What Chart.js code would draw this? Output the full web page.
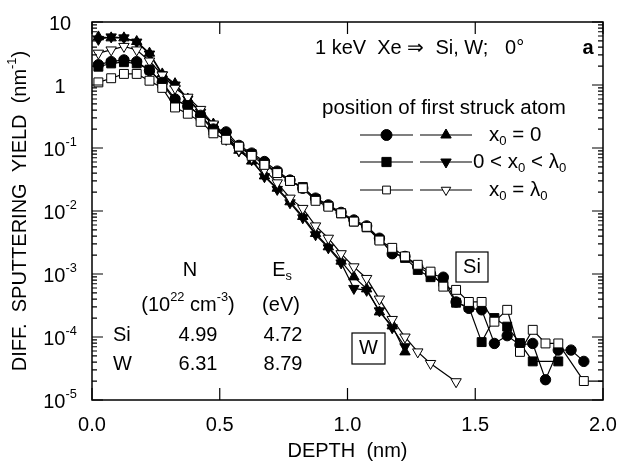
<!DOCTYPE html>
<html>
<head>
<meta charset="utf-8">
<script src="https://cdn.jsdelivr.net/npm/chart.js@4"></script>
<style>
  body { margin: 0; background: #fff; }
  #wrap { width: 619px; height: 469px; }
</style>
</head>
<body>
<div id="wrap"><canvas id="myChart"></canvas></div>
<script>
// depth bins (nm)
var depth = [0.025, 0.075, 0.125, 0.175, 0.225, 0.275, 0.325, 0.375, 0.425, 0.475,
             0.525, 0.575, 0.625, 0.675, 0.725, 0.775, 0.825, 0.875, 0.925, 0.975,
             1.025, 1.075, 1.125, 1.175, 1.225, 1.275, 1.325, 1.375, 1.425, 1.475,
             1.525, 1.575, 1.625, 1.675, 1.725, 1.775, 1.825, 1.875, 1.925, 1.975, 2.025];

// Si target
var siFirst  = [2.1, 2.35, 2.5, 2.35, 1.7, 1.1, 0.6, 0.46, 0.33, 0.2,
                0.18, 0.11, 0.083, 0.061, 0.043, 0.031, 0.023, 0.016, 0.0125, 0.0095,
                0.0072, 0.0058, 0.0037, 0.0021, 0.0019, 0.0013, 0.001, 0.00089, 0.00036, 0.000285,
                0.00027, 0.000079, 0.000105, 0.000075, 0.000079, 0.000021, 0.000062, 0.000062, 0.000041, null, null];
var siMid    = [1.95, 2.2, 2.3, 2.2, 1.75, 1.05, 0.56, 0.48, 0.32, 0.19,
                0.165, 0.105, 0.08, 0.057, 0.041, 0.03, 0.024, 0.0155, 0.012, 0.0092,
                0.0068, 0.0055, 0.0035, 0.00225, 0.0018, 0.00116, 0.00089, 0.00075, 0.00035, 0.0003,
                0.000083, 0.0002, 0.000146, 0.00008, 0.000041, null, 0.000041, null, null, null, null];
var siLambda = [1.1, 1.28, 1.5, 1.5, 1.17, 0.9, 0.44, 0.35, 0.26, 0.171,
                0.135, 0.105, 0.075, 0.054, 0.04, 0.03, 0.023, 0.0145, 0.0117, 0.0092,
                0.0068, 0.0056, 0.0034, 0.0026, 0.0019, 0.0014, 0.00109, 0.00063, 0.00056, 0.00036,
                0.00036, 0.000175, 0.00027, 0.000058, 0.00013, 0.000079, 0.000079, null, 0.00002, null, 0.00002];

// W target
var wFirst   = [5.8, 5.6, 5.6, 4.9, 3.2, 1.5, 1.05, 0.6, 0.36, 0.24,
                0.14, 0.092, 0.062, 0.036, 0.023, 0.014, 0.0082, 0.0044, 0.0027, 0.0016,
                0.0009, 0.00058, 0.00025, 0.00015, 0.000058];
var wMid     = [5.3, 5.8, 5.6, 4.8, 3.1, 1.45, 1.0, 0.6, 0.37, 0.23,
                0.137, 0.09, 0.065, 0.035, 0.022, 0.0135, 0.0078, 0.0042, 0.0026, 0.0015,
                0.00059, 0.00055, 0.00026, 0.00014, 0.00007];
var wLambda  = [3.2, 3.6, 4.1, 3.6, 2.4, 1.44, 0.89, 0.64, 0.41, 0.24,
                0.16, 0.093, 0.07, 0.045, 0.028, 0.016, 0.011, 0.0058, 0.0037, 0.0021,
                0.0013, 0.00085, 0.0004, 0.00019, 0.0001, 0.000058, 0.000038, null, 0.0000195];

var xTicks = [0, 0.5, 1.0, 1.5, 2.0];
var yDecades = [1, 0, -1, -2, -3, -4, -5];

var tableHead = ['N', 'E'];
var tableRows = [['Si', '4.99', '4.72'], ['W', '6.31', '8.79']];

var FONT = '"Liberation Sans", Arial, sans-serif';

function pts(vals) {
  return vals.map(function (v, i) { return { x: depth[i], y: v }; });
}

function ds(vals, style, fill, rot, r) {
  return {
    data: pts(vals),
    borderColor: '#000',
    borderWidth: 1.2,
    pointStyle: style,
    pointRotation: rot,
    pointRadius: r,
    pointBackgroundColor: fill,
    pointBorderColor: '#000',
    pointBorderWidth: 1,
    spanGaps: true,
    tension: 0
  };
}

// text with sub/superscripts: parts = [[text, mode]], mode 0 normal, 1 sup, -1 sub
function rich(ctx, parts, x, y, size, align) {
  var w = 0;
  parts.forEach(function (p) {
    ctx.font = (p[1] ? size * 0.64 : size) + 'px ' + FONT;
    p.w = ctx.measureText(p[0]).width;
    w += p.w;
  });
  var cx = align === 'center' ? x - w / 2 : (align === 'right' ? x - w : x);
  ctx.textAlign = 'left';
  ctx.textBaseline = 'middle';
  parts.forEach(function (p) {
    ctx.font = (p[1] ? size * 0.64 : size) + 'px ' + FONT;
    var dy = p[1] === 1 ? -size * 0.4 : (p[1] === -1 ? size * 0.3 : 0);
    ctx.fillText(p[0], cx, y + dy);
    cx += p.w;
  });
}

function marker(ctx, style, x, y, r, fill, rot) {
  ctx.beginPath();
  if (style === 'circle') {
    ctx.arc(x, y, r, 0, Math.PI * 2);
  } else if (style === 'rect') {
    var s = r * Math.SQRT1_2;
    ctx.rect(x - s, y - s, 2 * s, 2 * s);
  } else {
    var a = rot * Math.PI / 180;
    for (var i = 0; i < 3; i++) {
      var px = x + Math.sin(a) * r, py = y - Math.cos(a) * r;
      if (i === 0) ctx.moveTo(px, py); else ctx.lineTo(px, py);
      a += Math.PI * 2 / 3;
    }
    ctx.closePath();
  }
  ctx.fillStyle = fill;
  ctx.fill();
  ctx.lineWidth = 1;
  ctx.strokeStyle = '#000';
  ctx.stroke();
}

var decor = {
  id: 'decor',
  afterDraw: function (chart) {
    var ctx = chart.ctx, a = chart.chartArea, xs = chart.scales.x, ys = chart.scales.y;
    ctx.save();
    ctx.strokeStyle = '#000';
    ctx.fillStyle = '#000';

    // frame + ticks
    ctx.lineWidth = 1.5;
    ctx.strokeRect(a.left, a.top, a.right - a.left, a.bottom - a.top);
    ctx.lineWidth = 1.2;
    ctx.beginPath();
    xTicks.forEach(function (v) {
      var px = xs.getPixelForValue(v);
      ctx.moveTo(px, a.bottom); ctx.lineTo(px, a.bottom - 12);
      ctx.moveTo(px, a.top); ctx.lineTo(px, a.top + 12);
    });
    yDecades.forEach(function (k) {
      for (var m = 1; m <= 9; m++) {
        var v = m * Math.pow(10, k);
        if (v > 10) break;
        var py = ys.getPixelForValue(v);
        var len = m === 1 ? 11 : 5;
        ctx.moveTo(a.left, py); ctx.lineTo(a.left + len, py);
        ctx.moveTo(a.right, py); ctx.lineTo(a.right - len, py);
      }
    });
    ctx.stroke();

    // tick labels
    ctx.fillStyle = '#000';
    xTicks.forEach(function (v) {
      rich(ctx, [[v.toFixed(1), 0]], xs.getPixelForValue(v), a.bottom + 25, 20, 'center');
    });
    yDecades.forEach(function (k) {
      var py = ys.getPixelForValue(Math.pow(10, k));
      var parts = k === 1 ? [['10', 0]] : (k === 0 ? [['1', 0]] : [['10', 0], [String(k), 1]]);
      rich(ctx, parts, 60, py + 2, 20, 'center');
    });

    // axis titles
    rich(ctx, [['DEPTH  (nm)', 0]], (a.left + a.right) / 2, 451, 20, 'center');
    ctx.save();
    ctx.translate(20, (a.top + a.bottom) / 2);
    ctx.rotate(-Math.PI / 2);
    rich(ctx, [['DIFF.  SPUTTERING  YIELD  (nm', 0], ['-1', 1], [')', 0]], 0, 0, 20, 'center');
    ctx.restore();

    // header
    rich(ctx, [['1 keV  Xe \u21D2  Si, W;   0\u00B0', 0]], 315, 48, 20, 'left');
    ctx.font = 'bold 20px ' + FONT;
    ctx.textAlign = 'center';
    ctx.fillText('a', 588, 48);

    // legend
    rich(ctx, [['position of first struck atom', 0]], 322, 108, 20.5, 'left');
    var rows = [
      { y: 135, s1: ['circle', '#000', 0, 5.5], s2: ['triangle', '#000', 0, 6], tx: 489,
        txt: [['x', 0], ['0', -1], [' = 0', 0]] },
      { y: 162, s1: ['rect', '#000', 0, 6.5], s2: ['triangle', '#000', 180, 6], tx: 473,
        txt: [['0 < x', 0], ['0', -1], [' < \u03BB', 0], ['0', -1]] },
      { y: 190, s1: ['rect', '#fff', 0, 5.5], s2: ['triangle', '#fff', 180, 5.5], tx: 489,
        txt: [['x', 0], ['0', -1], [' = \u03BB', 0], ['0', -1]] }
    ];
    rows.forEach(function (r) {
      ctx.lineWidth = 1.2;
      ctx.strokeStyle = '#000';
      ctx.beginPath();
      ctx.moveTo(360, r.y); ctx.lineTo(413, r.y);
      ctx.moveTo(420, r.y); ctx.lineTo(472, r.y);
      ctx.stroke();
      marker(ctx, r.s1[0], 386.5, r.y, r.s1[3], r.s1[1], r.s1[2]);
      marker(ctx, r.s2[0], 446, r.y, r.s2[3], r.s2[1], r.s2[2]);
      ctx.fillStyle = '#000';
      rich(ctx, r.txt, r.tx, r.y, 20.5, 'left');
    });

    // material table
    ctx.fillStyle = '#000';
    rich(ctx, [[tableHead[0], 0]], 190, 270, 20, 'center');
    rich(ctx, [[tableHead[1], 0], ['s', -1]], 282, 270, 20, 'center');
    rich(ctx, [['(10', 0], ['22', 1], [' cm', 0], ['-3', 1], [')', 0]], 188, 305, 20, 'center');
    rich(ctx, [['(eV)', 0]], 281, 305, 20, 'center');
    tableRows.forEach(function (row, i) {
      var y = 335 + i * 29;
      rich(ctx, [[row[0], 0]], 113, y, 20, 'left');
      rich(ctx, [[row[1], 0]], 198, y, 20, 'center');
      rich(ctx, [[row[2], 0]], 283, y, 20, 'center');
    });

    // boxed labels
    ctx.lineWidth = 1.2;
    ctx.strokeRect(456, 252, 32, 30);
    rich(ctx, [['Si', 0]], 472, 267, 20, 'center');
    ctx.strokeRect(352, 333, 33, 31);
    rich(ctx, [['W', 0]], 368.5, 348.5, 20, 'center');

    ctx.restore();
  }
};

var ctx = document.getElementById('myChart').getContext('2d');
var chart = new Chart(ctx, {
  type: 'line',
  data: {
    datasets: [
      ds(siLambda, 'rect', '#fff', 0, 6.3),
      ds(siMid, 'rect', '#000', 0, 6.3),
      ds(siFirst, 'circle', '#000', 0, 5.2),
      ds(wLambda, 'triangle', '#fff', 180, 6),
      ds(wMid, 'triangle', '#000', 180, 6),
      ds(wFirst, 'triangle', '#000', 0, 6)
    ]
  },
  options: {
    responsive: true,
    maintainAspectRatio: false,
    animation: false,
    events: [],
    layout: { padding: { top: 22, right: 16, left: 0, bottom: 0 } },
    plugins: { legend: { display: false }, tooltip: { enabled: false } },
    scales: {
      x: {
        type: 'linear', min: 0, max: 2,
        grid: { display: false }, border: { display: false },
        ticks: { display: false },
        afterFit: function (s) { s.height = 69; }
      },
      y: {
        type: 'logarithmic', min: 1e-5, max: 10,
        grid: { display: false }, border: { display: false },
        ticks: { display: false },
        afterFit: function (s) { s.width = 92; }
      }
    }
  },
  plugins: [decor]
});
</script>
</body>
</html>
